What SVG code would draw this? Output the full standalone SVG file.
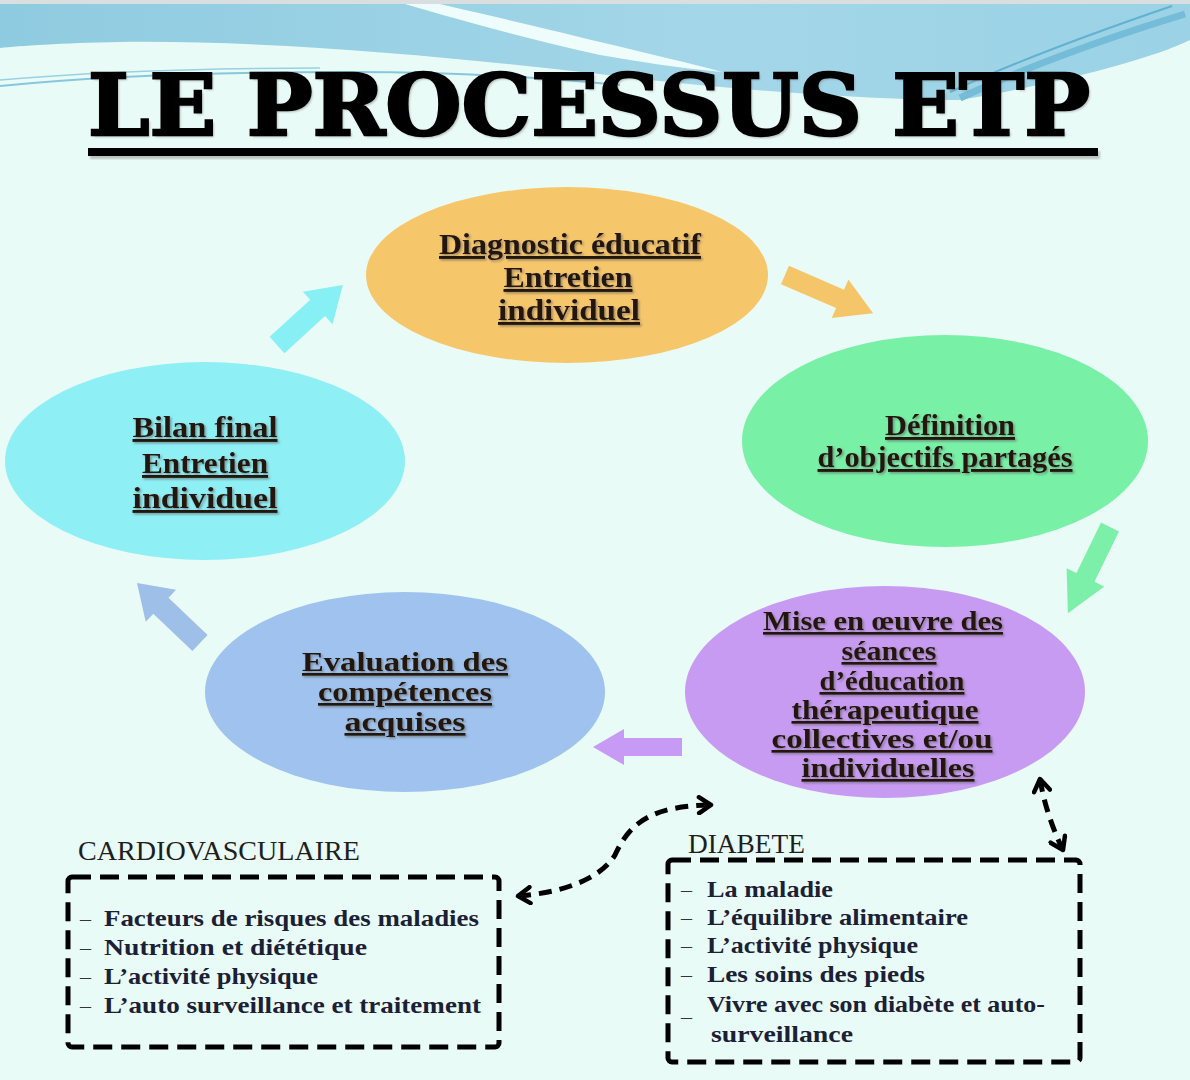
<svg xmlns="http://www.w3.org/2000/svg" width="1190" height="1080" viewBox="0 0 1190 1080">
<defs>
<linearGradient id="sky" x1="0" y1="0" x2="1" y2="0">
<stop offset="0" stop-color="#8fcbe0"/>
<stop offset="0.6" stop-color="#a3d6e8"/>
<stop offset="1" stop-color="#9bd2e6"/>
</linearGradient>
<filter id="ts" x="-10%" y="-20%" width="120%" height="150%">
<feDropShadow dx="1.5" dy="1.5" stdDeviation="1" flood-color="#5a5a5a" flood-opacity="0.6"/>
</filter>
<filter id="soft" x="-10%" y="-10%" width="120%" height="120%">
<feGaussianBlur stdDeviation="1.2"/>
</filter>
<marker id="chev" viewBox="0 0 20 20" refX="15" refY="10" markerWidth="20" markerHeight="20" markerUnits="userSpaceOnUse" orient="auto-start-reverse">
<path d="M3,2 L15,10 L3,18" fill="none" stroke="#000" stroke-width="4.5" stroke-linecap="round" stroke-linejoin="round"/>
</marker>
</defs>
<style>
.lbl{font-family:"Liberation Serif","DejaVu Serif",serif;font-weight:bold;font-size:29px;fill:#24160f;text-anchor:middle;text-decoration:underline}
.lblp{font-size:27px}
.lble{font-size:27px}
.item{font-family:"Liberation Serif","DejaVu Serif",serif;font-weight:bold;font-size:23px;fill:#1c2035}
.dsh{font-family:"Liberation Serif",serif;font-size:22px;fill:#333}
.head{font-family:"Liberation Serif","DejaVu Serif",serif;font-size:27px;fill:#1e1e1e}
.box{fill:none;stroke:#000;stroke-width:5;stroke-dasharray:19 9}
.conn{fill:none;stroke:#000;stroke-width:5;stroke-dasharray:13 8;marker-start:url(#chev);marker-end:url(#chev)}
.title{font-family:"DejaVu Serif","Liberation Serif",serif;font-weight:bold;font-size:84px}
</style>

<!-- background -->
<rect width="1190" height="1080" fill="#e9fbf6"/>
<rect width="1190" height="5" fill="#d9dede"/>
<path d="M0,4 H1190 V40 C1150,60 1050,85 960,100 C880,100 760,92 650,80 C500,62 300,40 120,42 C60,43 20,46 0,48 Z" fill="url(#sky)"/>
<path d="M405,4 L440,4 C500,18 560,32 600,42 C650,54 690,63 722,72 C680,68 640,62 600,55 C530,40 460,20 405,4 Z" fill="#eefcfc"/>
<path d="M1185,14 C1100,40 1020,70 960,98" fill="none" stroke="#74bcd8" stroke-width="7"/>
<path d="M1172,6 C1090,34 1010,64 950,92" fill="none" stroke="#62b1d1" stroke-width="2"/>
<path d="M0,86 C80,78 200,72 350,72 C450,72 550,78 620,85" fill="none" stroke="#86c7de" stroke-width="2"/>
<path d="M0,80 C90,72 200,68 320,68" fill="none" stroke="#9ad0e3" stroke-width="1.5"/>

<!-- title -->
<g id="title">
<text class="title" x="90" y="137" textLength="1002" lengthAdjust="spacingAndGlyphs" fill="#777" opacity="0.5" filter="url(#soft)">LE PROCESSUS ETP</text>
<text class="title" x="88" y="135" textLength="1002" lengthAdjust="spacingAndGlyphs" fill="#000" stroke="#000" stroke-width="2.5">LE PROCESSUS ETP</text>
<rect x="90" y="151" width="1010" height="8" fill="#888" opacity="0.5" filter="url(#soft)"/>
<rect x="88" y="148" width="1010" height="8" fill="#000"/>
</g>

<!-- nodes -->
<g id="node-diagnostic">
<ellipse cx="567" cy="275" rx="201" ry="88" fill="#f6c66b"/>
<g filter="url(#ts)">
<text class="lbl" x="570" y="254" textLength="262" lengthAdjust="spacingAndGlyphs">Diagnostic éducatif</text>
<text class="lbl" x="568" y="287" textLength="129" lengthAdjust="spacingAndGlyphs">Entretien</text>
<text class="lbl" x="569" y="320" textLength="142" lengthAdjust="spacingAndGlyphs">individuel</text>
</g>
</g>

<g id="node-definition">
<ellipse cx="945" cy="441" rx="203" ry="106" fill="#78f0a6"/>
<g filter="url(#ts)">
<text class="lbl" x="950" y="435" textLength="130" lengthAdjust="spacingAndGlyphs">Définition</text>
<text class="lbl" x="945" y="467" textLength="255" lengthAdjust="spacingAndGlyphs">d’objectifs partagés</text>
</g>
</g>

<g id="node-bilan">
<ellipse cx="205" cy="461" rx="200" ry="99" fill="#8eeff5"/>
<g filter="url(#ts)">
<text class="lbl" x="205" y="437" textLength="145" lengthAdjust="spacingAndGlyphs">Bilan final</text>
<text class="lbl" x="205" y="473" textLength="126" lengthAdjust="spacingAndGlyphs">Entretien</text>
<text class="lbl" x="205" y="508" textLength="145" lengthAdjust="spacingAndGlyphs">individuel</text>
</g>
</g>

<g id="node-evaluation">
<ellipse cx="405" cy="692" rx="200" ry="100" fill="#9fc3ee"/>
<g filter="url(#ts)">
<text class="lbl lble" x="405" y="671" textLength="206" lengthAdjust="spacingAndGlyphs">Evaluation des</text>
<text class="lbl lble" x="405" y="701" textLength="174" lengthAdjust="spacingAndGlyphs">compétences</text>
<text class="lbl lble" x="405" y="731" textLength="121" lengthAdjust="spacingAndGlyphs">acquises</text>
</g>
</g>

<g id="node-seances">
<ellipse cx="885" cy="692" rx="200" ry="106" fill="#c89bf3"/>
<g filter="url(#ts)">
<text class="lbl lblp" x="883" y="630" textLength="240" lengthAdjust="spacingAndGlyphs">Mise en œuvre des</text>
<text class="lbl lblp" x="889" y="660" textLength="95" lengthAdjust="spacingAndGlyphs">séances</text>
<text class="lbl lblp" x="892" y="690" textLength="145" lengthAdjust="spacingAndGlyphs">d’éducation</text>
<text class="lbl lblp" x="885" y="719" textLength="187" lengthAdjust="spacingAndGlyphs">thérapeutique</text>
<text class="lbl lblp" x="882" y="748" textLength="221" lengthAdjust="spacingAndGlyphs">collectives et/ou</text>
<text class="lbl lblp" x="888" y="777" textLength="173" lengthAdjust="spacingAndGlyphs">individuelles</text>
</g>
</g>

<g id="node-cardio">
<text class="head" x="78" y="860" textLength="282" lengthAdjust="spacingAndGlyphs">CARDIOVASCULAIRE</text>
<rect class="box" x="68" y="877" width="431" height="170" rx="4"/>
<text class="dsh" x="80" y="926">–</text>
<text class="dsh" x="80" y="955">–</text>
<text class="dsh" x="80" y="984">–</text>
<text class="dsh" x="80" y="1013">–</text>
<text class="item" x="104" y="926" textLength="375" lengthAdjust="spacingAndGlyphs">Facteurs de risques des maladies</text>
<text class="item" x="104" y="955" textLength="263" lengthAdjust="spacingAndGlyphs">Nutrition et diététique</text>
<text class="item" x="104" y="984" textLength="214" lengthAdjust="spacingAndGlyphs">L’activité physique</text>
<text class="item" x="104" y="1013" textLength="377" lengthAdjust="spacingAndGlyphs">L’auto surveillance  et traitement</text>
</g>

<g id="node-diabete">
<text class="head" x="688" y="853" textLength="117" lengthAdjust="spacingAndGlyphs">DIABETE</text>
<rect class="box" x="668" y="860" width="412" height="202" rx="4"/>
<text class="dsh" x="681" y="897">–</text>
<text class="dsh" x="681" y="925">–</text>
<text class="dsh" x="681" y="953">–</text>
<text class="dsh" x="681" y="982">–</text>
<text class="dsh" x="681" y="1024">–</text>
<text class="item" x="707" y="897" textLength="126" lengthAdjust="spacingAndGlyphs">La maladie</text>
<text class="item" x="707" y="925" textLength="261" lengthAdjust="spacingAndGlyphs">L’équilibre alimentaire</text>
<text class="item" x="707" y="953" textLength="211" lengthAdjust="spacingAndGlyphs">L’activité physique</text>
<text class="item" x="707" y="982" textLength="218" lengthAdjust="spacingAndGlyphs">Les soins des pieds</text>
<text class="item" x="707" y="1012" textLength="338" lengthAdjust="spacingAndGlyphs">Vivre avec son diabète et auto-</text>
<text class="item" x="711" y="1042" textLength="142" lengthAdjust="spacingAndGlyphs">surveillance</text>
</g>

<!-- connectors -->
<g id="connectors">
<path d="M0,-10 L60,-10 L60,-21 L96,0 L60,21 L60,10 L0,10 Z" fill="#f5c56a" transform="translate(785,275) rotate(23.4)"/>
<path d="M0,-10 L56,-10 L56,-21 L96,0 L56,21 L56,10 L0,10 Z" fill="#7cf0a8" transform="translate(1110,527) rotate(116)"/>
<path d="M0,-9 L58,-9 L58,-18 L89,0 L58,18 L58,9 L0,9 Z" fill="#c79af5" transform="translate(682,747) rotate(180)"/>
<path d="M0,-11 L55,-11 L55,-22 L89,0 L55,22 L55,11 L0,11 Z" fill="#86f0f5" transform="translate(277,345) rotate(-42.3)"/>
<path d="M0,-11 L54,-11 L54,-22 L87,0 L54,22 L54,11 L0,11 Z" fill="#9dbfe8" transform="translate(200,643) rotate(-136.4)"/>
<path class="conn" d="M518,896 C560,893 600,880 615,855 C630,822 652,806 711,805"/>
<path class="conn" d="M1040,779 Q1046,815 1063,850"/>
</g>
</svg>
